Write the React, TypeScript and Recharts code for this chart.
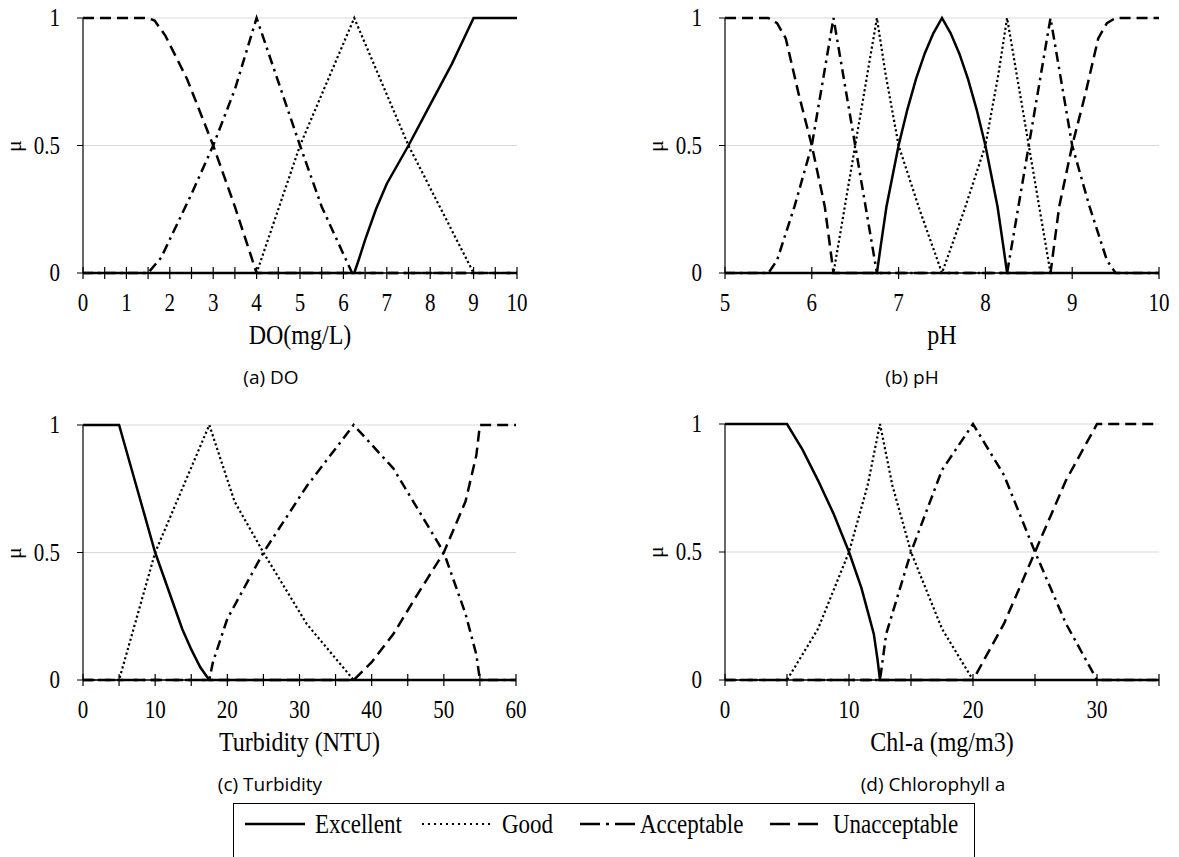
import { LineChart, Line, XAxis, YAxis, CartesianGrid } from "recharts";

type Pt = [number, number];

// (a) DO, mg/L
const doExcellent: Pt[] = [[0, 0], [6.25, 0], [6.35, 0.05], [6.5, 0.13], [6.75, 0.25], [7, 0.35], [7.5, 0.5], [8, 0.66], [8.5, 0.82], [9, 1], [10, 1]];
const doGood: Pt[] = [[0, 0], [4, 0], [5, 0.5], [6.25, 1], [7.5, 0.5], [9, 0], [10, 0]];
const doAcceptable: Pt[] = [[0, 0], [1.5, 0], [1.8, 0.06], [2.5, 0.31], [3, 0.5], [3.5, 0.72], [4, 1], [5, 0.5], [5.5, 0.26], [6.2, 0], [10, 0]];
const doUnacceptable: Pt[] = [[0, 1], [1.5, 1], [1.65, 0.99], [1.9, 0.93], [2.4, 0.76], [3, 0.5], [3.5, 0.26], [4, 0], [10, 0]];

// (b) pH
const phExcellent: Pt[] = [[5, 0], [6.75, 0], [6.8, 0.12], [6.86, 0.26], [6.93, 0.38], [7, 0.5], [7.1, 0.64], [7.2, 0.76], [7.3, 0.86], [7.4, 0.94], [7.5, 1], [7.6, 0.94], [7.7, 0.86], [7.8, 0.76], [7.9, 0.64], [8, 0.5], [8.07, 0.38], [8.14, 0.26], [8.2, 0.12], [8.25, 0], [10, 0]];
const phGood: Pt[] = [[5, 0], [6.25, 0], [6.5, 0.5], [6.75, 1], [6.85, 0.78], [7, 0.5], [7.25, 0.24], [7.5, 0], [7.75, 0.24], [8, 0.5], [8.15, 0.78], [8.25, 1], [8.5, 0.5], [8.75, 0], [10, 0]];
const phAcceptable: Pt[] = [[5, 0], [5.5, 0], [5.6, 0.05], [5.8, 0.26], [6, 0.5], [6.25, 1], [6.5, 0.5], [6.75, 0], [8.25, 0], [8.5, 0.5], [8.75, 1], [9, 0.5], [9.2, 0.26], [9.4, 0.05], [9.5, 0], [10, 0]];
const phUnacceptable: Pt[] = [[5, 1], [5.5, 1], [5.6, 0.98], [5.7, 0.92], [5.85, 0.7], [6, 0.5], [6.15, 0.26], [6.25, 0], [8.75, 0], [8.85, 0.26], [9, 0.5], [9.15, 0.7], [9.3, 0.92], [9.4, 0.98], [9.5, 1], [10, 1]];

// (c) Turbidity, NTU
const tuExcellent: Pt[] = [[0, 1], [5, 1], [7.5, 0.75], [10, 0.5], [11.25, 0.4], [12.5, 0.3], [13.75, 0.2], [15, 0.12], [16.25, 0.05], [17.5, 0], [60, 0]];
const tuGood: Pt[] = [[0, 0], [5, 0], [10, 0.5], [17.5, 1], [21, 0.7], [25, 0.5], [31, 0.22], [37.5, 0], [60, 0]];
const tuAcceptable: Pt[] = [[0, 0], [17.5, 0], [18, 0.07], [20, 0.24], [25, 0.5], [31, 0.76], [37.5, 1], [43, 0.83], [50, 0.5], [53, 0.26], [54.5, 0.1], [55, 0], [60, 0]];
const tuUnacceptable: Pt[] = [[0, 0], [37.5, 0], [40, 0.07], [43, 0.18], [46, 0.32], [50, 0.5], [53, 0.7], [54.5, 0.88], [55, 1], [60, 1]];

// (d) Chl-a, mg/m3
const chExcellent: Pt[] = [[0, 1], [5, 1], [6.25, 0.9], [7.5, 0.78], [8.75, 0.65], [10, 0.5], [11, 0.36], [11.5, 0.27], [12, 0.18], [12.3, 0.08], [12.5, 0], [35, 0]];
const chGood: Pt[] = [[0, 0], [5, 0], [7.5, 0.2], [10, 0.5], [11.5, 0.76], [12.5, 1], [13.5, 0.76], [15, 0.5], [17.5, 0.2], [20, 0], [35, 0]];
const chAcceptable: Pt[] = [[0, 0], [12.5, 0], [13, 0.18], [15, 0.5], [17.5, 0.82], [20, 1], [22.5, 0.8], [25, 0.5], [27.5, 0.22], [30, 0], [35, 0]];
const chUnacceptable: Pt[] = [[0, 0], [20, 0], [22.5, 0.22], [25, 0.5], [27.5, 0.78], [30, 1], [35, 1]];

const doTicks = [0, 0.5, 1, 1.5, 2, 2.5, 3, 3.5, 4, 4.5, 5, 5.5, 6, 6.5, 7, 7.5, 8, 8.5, 9, 9.5, 10];
const phTicks = [5, 6, 7, 8, 9, 10];
const tuTicks = [0, 5, 10, 15, 20, 25, 30, 35, 40, 45, 50, 55, 60];
const chTicks = [0, 5, 10, 15, 20, 25, 30, 35];
const muTicks = [0, 0.5, 1];

const classes = ["Unacceptable", "Acceptable", "Good", "Excellent"];
const legendOrder = ["Excellent", "Good", "Acceptable", "Unacceptable"];

const SERIF = "Liberation Serif";
const SANS = "Open Sans";
// the source figure's text is a bit taller than wide
const STRETCH = 1.15;

const lineStyle: Record<string, { width: number; dash?: string; legendDash?: string }> = {
  Excellent: { width: 2.5 },
  Good: { width: 2.2, dash: "2.2 2.6", legendDash: "2 4" },
  Acceptable: { width: 2.5, dash: "10 5 2.5 5", legendDash: "20 6 3 6" },
  Unacceptable: { width: 2.5, dash: "11 6", legendDash: "20 8" },
};

// legend sample / text x positions on the page
const legendPos: Record<string, { x1: number; x2: number; tx: number }> = {
  Excellent: { x1: 245, x2: 305, tx: 315 },
  Good: { x1: 422, x2: 493, tx: 502 },
  Acceptable: { x1: 580, x2: 635, tx: 640 },
  Unacceptable: { x1: 770, x2: 820, tx: 833 },
};

const toRows = (pts: Pt[]) => pts.map(([x, y]) => ({ x, y }));

function XTick(props: any) {
  const { x, y, payload, every } = props;
  const v = payload.value as number;
  const r = v / every;
  const labelled = Math.abs(r - Math.round(r)) < 1e-6;
  return (
    <g>
      <line x1={x} x2={x} y1={y - 12} y2={y} stroke="#000" strokeWidth={1.2} />
      {labelled && (
        <text
          transform={`translate(${x} ${y + 32}) scale(1 ${STRETCH})`}
          textAnchor="middle"
          fontFamily={SERIF}
          fontSize={21}
          fill="#000"
        >
          {v}
        </text>
      )}
    </g>
  );
}

function YTick(props: any) {
  const { x, y, payload } = props;
  return (
    <text
      transform={`translate(${x} ${y}) scale(1 ${STRETCH})`}
      dy="0.35em"
      textAnchor="end"
      fontFamily={SERIF}
      fontSize={21}
      fill="#000"
    >
      {payload.value}
    </text>
  );
}

interface PanelProps {
  series: Record<string, Pt[]>;
  domain: [number, number];
  ticks: number[];
  every: number;
  plot: { left: number; top: number; right: number; bottom: number };
  title: string;
  caption: string;
  captionX: number;
}

function Panel({ series, domain, ticks, every, plot, title, caption, captionX }: PanelProps) {
  const yAxisW = 80;
  const padTop = 18;
  const padRight = 20;
  const xAxisH = 60;
  const width = plot.right - plot.left + yAxisW + padRight;
  const height = plot.bottom - plot.top + padTop + xAxisH;
  const cx = (plot.left + plot.right) / 2;
  const cy = (plot.top + plot.bottom) / 2;

  return (
    <>
      <div style={{ position: "absolute", left: plot.left - yAxisW, top: plot.top - padTop }}>
        <LineChart
          width={width}
          height={height}
          margin={{ top: padTop, right: padRight, bottom: 0, left: 0 }}
          style={{ fontFamily: SERIF }}
        >
          <CartesianGrid vertical={false} stroke="#d9d9d9" />
          <XAxis
            dataKey="x"
            type="number"
            domain={domain}
            ticks={ticks}
            interval={0}
            height={xAxisH}
            allowDataOverflow
            axisLine={{ stroke: "#000", strokeWidth: 1.5 }}
            tickLine={false}
            tickSize={6}
            tickMargin={0}
            tick={(p: any) => <XTick {...p} every={every} />}
          />
          <YAxis
            type="number"
            domain={[0, 1]}
            ticks={muTicks}
            interval={0}
            width={yAxisW}
            axisLine={{ stroke: "#000", strokeWidth: 1.2 }}
            tickLine={{ stroke: "#000" }}
            tickSize={6}
            tickMargin={17}
            tick={(p: any) => <YTick {...p} />}
          />
          {classes.map((c) => (
            <Line
              key={c}
              data={toRows(series[c])}
              dataKey="y"
              type="linear"
              stroke="#000"
              strokeWidth={lineStyle[c].width}
              strokeDasharray={lineStyle[c].dash}
              dot={false}
              activeDot={false}
              isAnimationActive={false}
            />
          ))}
        </LineChart>
      </div>
      <div
        style={{
          position: "absolute",
          left: plot.left - 69,
          top: cy,
          transform: "translate(-50%, -50%) rotate(-90deg)",
          fontFamily: SERIF,
          fontSize: 22,
          lineHeight: 1,
        }}
      >
        μ
      </div>
      <div
        style={{
          position: "absolute",
          left: cx,
          top: plot.bottom + 62,
          transform: `translate(-50%, -50%) scaleY(${STRETCH})`,
          fontFamily: SERIF,
          fontSize: 24,
          lineHeight: 1,
          whiteSpace: "nowrap",
        }}
      >
        {title}
      </div>
      <div
        style={{
          position: "absolute",
          left: captionX,
          top: plot.bottom + 104,
          transform: "translate(-50%, -50%)",
          fontFamily: SANS,
          fontSize: 19,
          lineHeight: 1,
          whiteSpace: "nowrap",
        }}
      >
        {caption}
      </div>
    </>
  );
}

function LegendBox() {
  const y = 824;
  return (
    <>
      <div
        style={{
          position: "absolute",
          left: 233,
          top: 803,
          width: 742,
          height: 54,
          boxSizing: "border-box",
          borderTop: "1.5px solid #000",
          borderLeft: "1.5px solid #000",
          borderRight: "1.5px solid #000",
        }}
      />
      <svg style={{ position: "absolute", left: 0, top: 0 }} width={1179} height={857}>
        {legendOrder.map((c) => (
          <line
            key={c}
            x1={legendPos[c].x1}
            x2={legendPos[c].x2}
            y1={y}
            y2={y}
            stroke="#000"
            strokeWidth={lineStyle[c].width}
            strokeDasharray={lineStyle[c].legendDash}
          />
        ))}
      </svg>
      {legendOrder.map((c) => (
        <div
          key={c}
          style={{
            position: "absolute",
            left: legendPos[c].tx,
            top: y,
            transform: `translateY(-50%) scaleY(${STRETCH})`,
            fontFamily: SERIF,
            fontSize: 23,
            lineHeight: 1,
            whiteSpace: "nowrap",
          }}
        >
          {c}
        </div>
      ))}
    </>
  );
}

export default function App() {
  return (
    <div
      style={{
        position: "absolute",
        left: 0,
        top: 0,
        width: 1179,
        height: 857,
        overflow: "hidden",
        background: "#fff",
        color: "#000",
      }}
    >
      <Panel
        series={{ Excellent: doExcellent, Good: doGood, Acceptable: doAcceptable, Unacceptable: doUnacceptable }}
        domain={[0, 10]}
        ticks={doTicks}
        every={1}
        plot={{ left: 83, top: 18, right: 517, bottom: 273 }}
        title="DO(mg/L)"
        caption="(a) DO"
        captionX={271}
      />
      <Panel
        series={{ Excellent: phExcellent, Good: phGood, Acceptable: phAcceptable, Unacceptable: phUnacceptable }}
        domain={[5, 10]}
        ticks={phTicks}
        every={1}
        plot={{ left: 725, top: 18, right: 1159, bottom: 273 }}
        title="pH"
        caption="(b) pH"
        captionX={912}
      />
      <Panel
        series={{ Excellent: tuExcellent, Good: tuGood, Acceptable: tuAcceptable, Unacceptable: tuUnacceptable }}
        domain={[0, 60]}
        ticks={tuTicks}
        every={10}
        plot={{ left: 83, top: 425, right: 516, bottom: 680 }}
        title="Turbidity (NTU)"
        caption="(c) Turbidity"
        captionX={270}
      />
      <Panel
        series={{ Excellent: chExcellent, Good: chGood, Acceptable: chAcceptable, Unacceptable: chUnacceptable }}
        domain={[0, 35]}
        ticks={chTicks}
        every={10}
        plot={{ left: 725, top: 424, right: 1159, bottom: 680 }}
        title="Chl-a (mg/m3)"
        caption="(d) Chlorophyll a"
        captionX={933}
      />
      <LegendBox />
    </div>
  );
}
